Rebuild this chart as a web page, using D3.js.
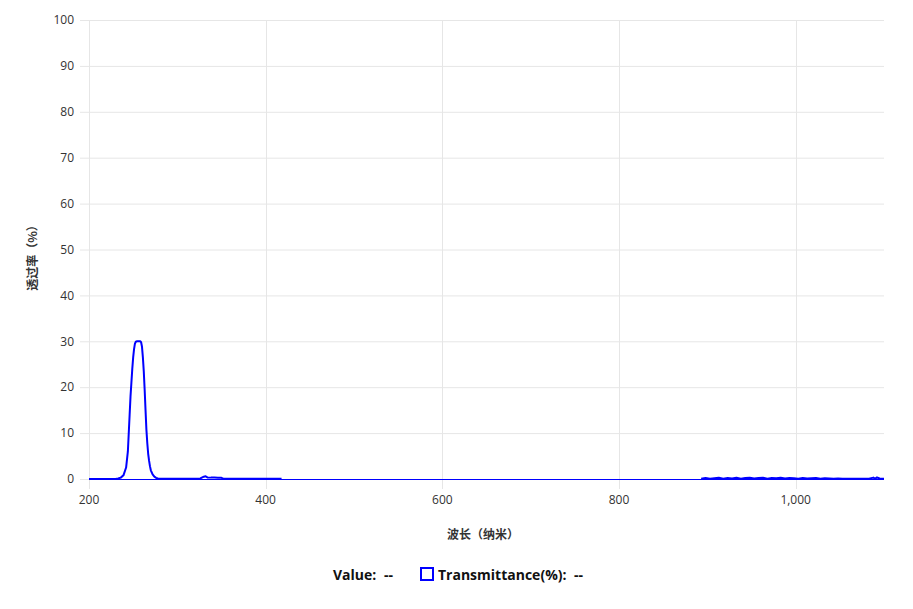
<!DOCTYPE html>
<html><head><meta charset="utf-8">
<script src="https://cdn.jsdelivr.net/npm/d3@7/dist/d3.min.js"></script>
<style>body{margin:0;background:#fff;}svg{display:block;font-family:"Open Sans","Noto Sans",sans-serif;}</style>
</head><body>
<svg id="c" width="913" height="609"></svg>
<script>
// ---- data ----
const xTicks = [200, 400, 600, 800, 1000];
const yTicks = [0,10,20,30,40,50,60,70,80,90,100];
// first segment (UV band)
const wl1 = [200,210,220,230,233,236,239,242,244,246,247,248,249,250,251,252,253,254,256,258,259,260,261,262,263,264,265,266,267,268,269,270,272,274,276,278,280,290,300,310,320,326,330,332,334,338,342,346,350,352,360,370,380,390,400,410,418];
const tr1 = [0,0,0,0.02,0.1,0.3,0.8,2.5,6,14,18,21,24,26.5,28.3,29.5,29.9,30,30,30,29.8,28.8,26.5,23.5,19.5,15,10.7,7.8,5.5,4,2.8,1.9,1,0.5,0.25,0.12,0.06,0.03,0.03,0.03,0.05,0.12,0.5,0.6,0.35,0.3,0.3,0.28,0.25,0.08,0.05,0.05,0.04,0.04,0.05,0.04,0.03];
// second segment (NIR noise)
const wl2 = [893,898,903,908,913,918,923,928,933,938,943,948,953,958,963,968,973,978,983,988,993,998,1003,1008,1013,1018,1023,1028,1033,1038,1043,1048,1053,1058,1063,1068,1073,1078,1083,1088,1090,1092,1095,1100];
const tr2 = [0.05,0.2,0.05,0.15,0.25,0.05,0.2,0.1,0.25,0.05,0.2,0.25,0.1,0.2,0.25,0.05,0.2,0.15,0.25,0.1,0.2,0.15,0.05,0.2,0.1,0.15,0.2,0.05,0.15,0.1,0.05,0.1,0.05,0.08,0.05,0.06,0.05,0.05,0.05,0.3,0.05,0.35,0.1,0.05];
const xLabel = "波长（纳米）";
const yLabel = "透过率（%）";
const legendItems = ["Value:", "Transmittance(%):"];

// ---- chart ----
const svg = d3.select("#c");
const x = d3.scaleLinear().domain([200,1100]).range([89,884]);
const y = d3.scaleLinear().domain([0,100]).range([479,20]);
const grid = "#e6e6e6";

// horizontal grid + tick marks
svg.append("g").selectAll("line").data(yTicks).join("line")
  .attr("x1",80).attr("x2",884)
  .attr("y1",d=>y(d)+0.5).attr("y2",d=>y(d)+0.5)
  .attr("stroke",grid).attr("stroke-width",1);
// vertical grid + tick marks
svg.append("g").selectAll("line").data(xTicks).join("line")
  .attr("x1",d=>Math.round(x(d))+0.5).attr("x2",d=>Math.round(x(d))+0.5)
  .attr("y1",20).attr("y2",489)
  .attr("stroke",grid).attr("stroke-width",1);

// y tick labels
svg.append("g").selectAll("text").data(yTicks).join("text")
  .attr("x",74).attr("y",d=>y(d)).attr("dy","0.35em")
  .attr("text-anchor","end").attr("font-size",12).attr("fill","#333")
  .text(d=>d);
// x tick labels
const fmt = d3.format(",");
svg.append("g").selectAll("text").data(xTicks).join("text")
  .attr("x",d=>x(d)).attr("y",504)
  .attr("text-anchor","middle").attr("font-size",12).attr("fill","#333")
  .text(d=>fmt(d));

// baseline
svg.append("line").attr("x1",89).attr("x2",884).attr("y1",479.5).attr("y2",479.5)
  .attr("stroke","#0000ff").attr("stroke-width",1);

// data line
const line = d3.line().x(d=>x(d[0])).y(d=>y(d[1]));
[[wl1,tr1],[wl2,tr2]].forEach(([w,t])=>{
  svg.append("path").datum(w.map((v,i)=>[v,t[i]]))
    .attr("d",line).attr("fill","none").attr("stroke","#0000ff")
    .attr("stroke-width",2).attr("stroke-linejoin","round");
});

// axis titles
svg.append("text").attr("x",483).attr("y",539).attr("text-anchor","middle")
  .attr("font-size",12).attr("font-weight","bold").attr("fill","#333")
  .attr("font-family","'Noto Sans CJK SC',sans-serif").text(xLabel);
svg.append("text").attr("transform","translate(37,255) rotate(-90)")
  .attr("text-anchor","middle").attr("font-size",12).attr("font-weight","bold").attr("fill","#333")
  .attr("font-family","'Noto Sans CJK SC',sans-serif").text(yLabel);

// legend
const lg = svg.append("g").attr("font-size",14).attr("font-weight","bold").attr("fill","#111");
lg.append("text").attr("x",333).attr("y",580).text(legendItems[0]);
lg.append("text").attr("x",384).attr("y",580).text("--");
lg.append("rect").attr("x",421).attr("y",568).attr("width",12).attr("height",12)
  .attr("fill","none").attr("stroke","#0000ff").attr("stroke-width",2);
lg.append("text").attr("x",438).attr("y",580).text(legendItems[1]);
lg.append("text").attr("x",574).attr("y",580).text("--");
</script>
</body></html>
